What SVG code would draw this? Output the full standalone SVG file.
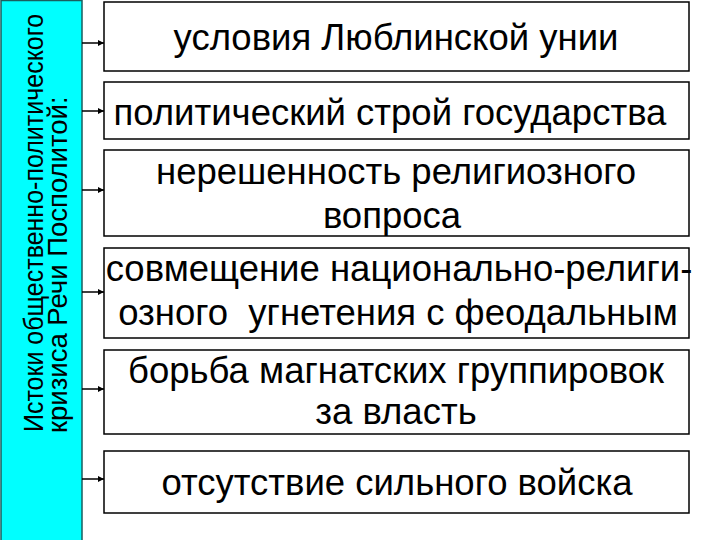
<svg xmlns="http://www.w3.org/2000/svg" width="720" height="540" viewBox="0 0 720 540">
<defs>
<style>
.box{fill:#fff;stroke:#000;stroke-width:1.5}
.t{font-family:"Liberation Sans",Arial,sans-serif;font-size:36.5px;fill:#000;text-anchor:middle}
.side{font-family:"Liberation Sans",Arial,sans-serif;fill:#000}
.arr{stroke:#000;stroke-width:1.5;fill:none;marker-end:url(#ah)}
</style>
<marker id="ah" viewBox="0 0 10 10" refX="10" refY="5" markerWidth="6" markerHeight="6" markerUnits="userSpaceOnUse" orient="auto">
<path d="M0,0 L10,5 L0,10 z" fill="#000"/>
</marker>
</defs>
<rect width="720" height="540" fill="#fff"/>
<g id="side">
<rect x="1" y="0.5" width="81" height="545" fill="#00ffff" stroke="#1b5e5e" stroke-width="1.5"/>
<text class="side" font-size="25" transform="translate(43,432) rotate(-90) scale(1,1.12)">Истоки общественно-политического</text>
<text class="side" font-size="27.5" transform="translate(67,433) rotate(-90)">кризиса Речи Посполитой:</text>
</g>
<g id="connectors">
<line class="arr" x1="82" y1="43" x2="104" y2="43"/>
<line class="arr" x1="82" y1="111" x2="104" y2="111"/>
<line class="arr" x1="82" y1="190" x2="104" y2="190"/>
<line class="arr" x1="82" y1="292" x2="104" y2="292"/>
<line class="arr" x1="82" y1="389" x2="104" y2="389"/>
<line class="arr" x1="82" y1="479" x2="104" y2="479"/>
</g>
<g id="n1">
<rect class="box" x="104" y="2" width="585" height="69"/>
<text class="t" x="396" y="50">условия Люблинской унии</text>
</g>
<g id="n2">
<rect class="box" x="104" y="82" width="585" height="57"/>
<text class="t" x="390" y="125">политический строй государства</text>
</g>
<g id="n3">
<rect class="box" x="104" y="150" width="585" height="86"/>
<text class="t" x="396" y="184">нерешенность религиозного</text>
<text class="t" x="392" y="228">вопроса</text>
</g>
<g id="n4">
<rect class="box" x="104" y="248" width="585" height="90"/>
<text class="t" x="399" y="281">совмещение национально-религи-</text>
<text class="t" x="398" y="325" xml:space="preserve">озного  угнетения с феодальным</text>
</g>
<g id="n5">
<rect class="box" x="104" y="350" width="585" height="84"/>
<text class="t" x="396" y="383">борьба магнатских группировок</text>
<text class="t" x="396" y="424">за власть</text>
</g>
<g id="n6">
<rect class="box" x="104" y="451" width="585" height="62"/>
<text class="t" x="397" y="495">отсутствие сильного войска</text>
</g>
</svg>
